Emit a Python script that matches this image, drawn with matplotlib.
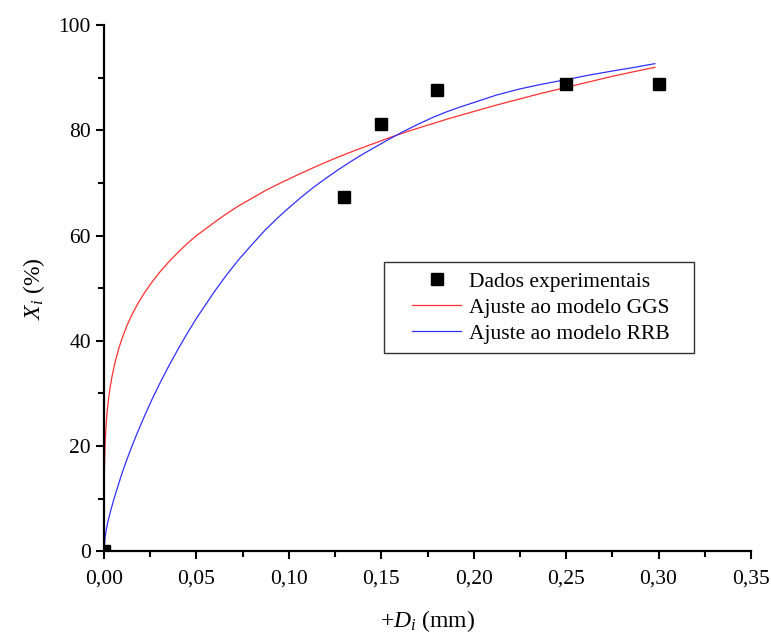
import matplotlib
matplotlib.use("Agg")
import matplotlib.pyplot as plt
from matplotlib.ticker import MultipleLocator, FuncFormatter
from matplotlib.patches import Rectangle

# Experimental data
exp_x = [0.0, 0.13, 0.15, 0.18, 0.25, 0.30]
exp_y = [0.0, 67.3, 81.2, 87.7, 88.8, 88.8]

# GGS fit curve
ggs_x = [0.0, 0.0001, 0.0002, 0.0004, 0.0007, 0.0011, 0.0016, 0.0023, 0.0032, 0.0045,
         0.006, 0.008, 0.010, 0.0125, 0.015, 0.018, 0.022, 0.026, 0.030, 0.035,
         0.040, 0.045, 0.050, 0.055, 0.060, 0.066, 0.073, 0.080, 0.088, 0.096,
         0.105, 0.115, 0.125, 0.135, 0.145, 0.155, 0.165, 0.175, 0.187, 0.200,
         0.212, 0.225, 0.237, 0.249, 0.262, 0.275, 0.287, 0.298]
ggs_y = [0.0, 13.5, 15.9, 18.8, 21.5, 24.0, 26.3, 28.6, 31.0, 33.6,
         36.0, 38.6, 40.7, 43.0, 44.9, 46.9, 49.2, 51.2, 53.0, 55.0,
         56.8, 58.5, 60.0, 61.3, 62.6, 64.1, 65.7, 67.1, 68.7, 70.1,
         71.6, 73.2, 74.7, 76.1, 77.4, 78.7, 79.9, 81.0, 82.3, 83.6,
         84.8, 86.0, 87.1, 88.1, 89.2, 90.3, 91.2, 92.0]

# RRB fit curve
rrb_x = [0.0, 0.0005, 0.001, 0.002, 0.0035, 0.005, 0.007, 0.0095, 0.012, 0.015,
         0.018, 0.022, 0.026, 0.030, 0.035, 0.040, 0.045, 0.050, 0.055, 0.060,
         0.066, 0.073, 0.080, 0.087, 0.094, 0.100, 0.107, 0.113, 0.120, 0.127,
         0.134, 0.140, 0.147, 0.154, 0.162, 0.170, 0.178, 0.185, 0.193, 0.200,
         0.212, 0.225, 0.237, 0.249, 0.262, 0.275, 0.287, 0.298]
rrb_y = [0.0, 2.5, 3.7, 5.5, 7.6, 9.5, 11.8, 14.6, 17.1, 19.9,
         22.5, 25.8, 28.9, 31.8, 35.2, 38.4, 41.4, 44.3, 46.9, 49.5,
         52.4, 55.5, 58.3, 61.0, 63.4, 65.3, 67.4, 69.1, 70.9, 72.6,
         74.2, 75.5, 76.9, 78.3, 79.8, 81.2, 82.5, 83.5, 84.5, 85.3,
         86.7, 87.9, 88.8, 89.6, 90.5, 91.3, 92.0, 92.7]

x_ticks = [0.00, 0.05, 0.10, 0.15, 0.20, 0.25, 0.30, 0.35]
y_ticks = [0, 20, 40, 60, 80, 100]

plt.rcParams['font.family'] = ['Liberation Serif', 'DejaVu Serif']
plt.rcParams['mathtext.fontset'] = 'custom'
plt.rcParams['mathtext.rm'] = 'Liberation Serif'
plt.rcParams['mathtext.it'] = 'Liberation Serif:italic'

fig = plt.figure(figsize=(7.71, 6.32), dpi=100)
ax = fig.add_axes([0.135, 0.128, 0.839, 0.832])

ax.plot(exp_x, exp_y, 's', color='black', markersize=8, label='Dados experimentais',
        zorder=3)
ax.plot(ggs_x, ggs_y, '-', color='#ff3030', lw=0.9, label='Ajuste ao modelo GGS')
ax.plot(rrb_x, rrb_y, '-', color='#3030ff', lw=0.9, label='Ajuste ao modelo RRB')

ax.set_xlim(0, 0.35)
ax.set_ylim(0, 100)
ax.set_xticks(x_ticks)
ax.set_yticks(y_ticks)
ax.xaxis.set_minor_locator(MultipleLocator(0.025))
ax.yaxis.set_minor_locator(MultipleLocator(10))
ax.xaxis.set_major_formatter(FuncFormatter(lambda v, p: f"{v:.2f}".replace('.', ',')))
ax.yaxis.set_major_formatter(FuncFormatter(lambda v, p: f"{v:.0f}"))

for s in ['top', 'right']:
    ax.spines[s].set_visible(False)
for s in ['left', 'bottom']:
    ax.spines[s].set_linewidth(1.6)
ax.tick_params(which='major', direction='out', length=6, width=1.5, labelsize=15.5)
ax.tick_params(axis='x', which='major', pad=7)
ax.tick_params(which='minor', direction='out', length=4, width=1.5)

ax.set_xlabel(r'+$D_i$ (mm)', fontsize=17, labelpad=14)
ax.set_ylabel(r'$X_i$ (%)', fontsize=17, labelpad=8)

# legend frame
ax.add_patch(Rectangle((0.432, 0.377), 0.48, 0.172, transform=ax.transAxes,
                       facecolor='white', edgecolor='#333333', lw=1.0, zorder=4))
leg = ax.legend(loc='center', bbox_to_anchor=(0.675, 0.463), fontsize=15.5,
                frameon=False, handlelength=2.3, borderpad=0.0,
                labelspacing=0.28, handletextpad=0.35)
leg.set_zorder(5)

fig.savefig('out.png', dpi=100)
